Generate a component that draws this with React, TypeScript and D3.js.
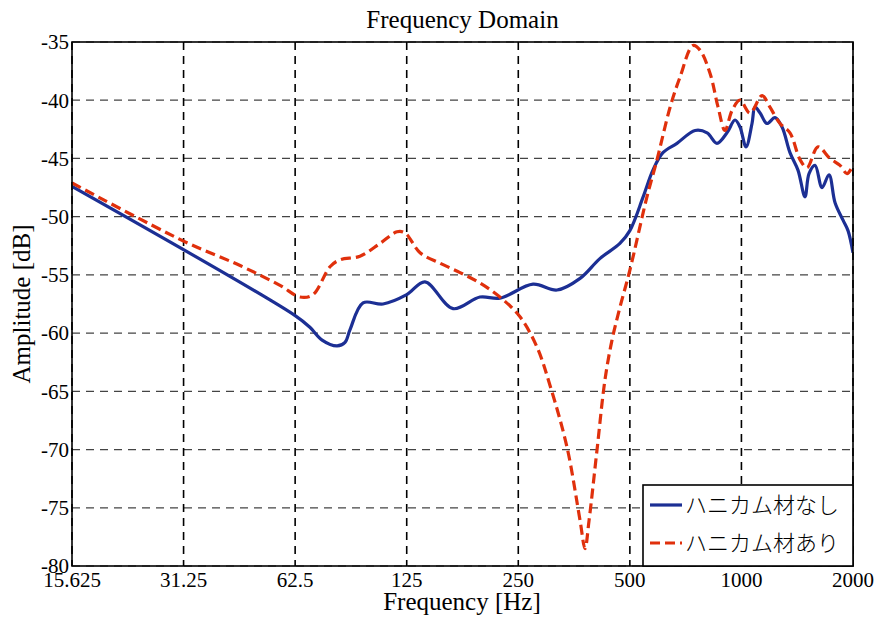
import React from "react";
import * as d3 from "d3";

const xTicks = [15.625, 31.25, 62.5, 125, 250, 500, 1000, 2000];
const xTickLabels = ["15.625", "31.25", "62.5", "125", "250", "500", "1000", "2000"];
const yTicks = [-35, -40, -45, -50, -55, -60, -65, -70, -75, -80];

const blueFreq = [15.625, 62.5, 68.5, 73.9, 81.1, 85.2, 87.9, 95.3, 107.9, 125, 140, 166.7, 197, 223, 274, 318, 367, 415, 470, 500, 543, 577, 614, 670, 750, 808, 859, 914, 961, 991, 1029, 1068, 1088, 1123, 1172, 1232, 1287, 1352, 1421, 1484, 1522, 1580, 1650, 1723, 1789, 1880, 1939, 2000];
const blueDb = [-47.4, -58.5, -59.5, -60.6, -61.1, -60.8, -59.7, -57.4, -57.5, -56.7, -55.6, -57.9, -56.9, -57.0, -55.8, -56.3, -55.3, -53.6, -52.3, -51.2, -48.3, -46.0, -44.5, -43.7, -42.6, -42.8, -43.7, -42.8, -41.7, -42.3, -44.0, -42.0, -40.6, -41.1, -42.0, -41.5, -42.3, -44.5, -46.0, -48.3, -46.3, -45.6, -47.5, -46.4, -48.8, -50.3, -51.2, -53.1];

const redFreq = [15.625, 31.25, 44.4, 56.9, 64.4, 69.8, 77.6, 82.6, 93.5, 105.9, 117.7, 123.7, 135.8, 153.7, 174.1, 197, 223, 252.7, 280.8, 304.5, 338.4, 367, 378.4, 388, 407.8, 428.4, 447.5, 470, 500, 556, 592, 642, 683, 740, 773, 823, 865, 903, 943, 991, 1055, 1137, 1194, 1271, 1352, 1439, 1503, 1609, 1733, 1845, 1927, 2000];
const redDb = [-47.1, -52.1, -54.2, -55.9, -56.9, -56.7, -54.3, -53.7, -53.4, -52.3, -51.3, -51.4, -53.1, -54.0, -54.8, -55.7, -56.9, -58.6, -61.2, -64.5, -69.8, -76.1, -78.5, -76.1, -70.0, -64.0, -60.6, -57.8, -54.6, -48.3, -45.1, -40.6, -38.0, -35.3, -35.7, -37.7, -40.6, -42.6, -40.9, -40.0, -41.1, -39.6, -40.6, -42.0, -42.8, -45.1, -45.8, -44.0, -45.0, -45.6, -46.3, -45.6];

const seriesNames = ["ハニカム材なし", "ハニカム材あり"];

const W = 878, H = 623;
const L = 72, R = 853, T = 42, B = 566;

export default function App() {
  const x = d3.scaleLog().base(2).domain([15.625, 2000]).range([L, R]);
  const y = d3.scaleLinear().domain([-80, -35]).range([B, T]);
  const line = d3
    .line<[number, number]>()
    .x((d) => x(d[0]))
    .y((d) => y(d[1]))
    .curve(d3.curveCatmullRom.alpha(0.5));
  const blue = line(blueFreq.map((f, i) => [f, blueDb[i]]))!;
  const red = line(redFreq.map((f, i) => [f, redDb[i]]))!;
  const font = "'Liberation Serif', 'Times New Roman', serif";
  const jp = "'Noto Sans CJK JP', sans-serif";
  return (
    <svg width={W} height={H} style={{ position: "absolute", left: 0, top: 0 }}>
      <rect x={0} y={0} width={W} height={H} fill="#fff" />
      <defs>
        <clipPath id="plot">
          <rect x={L} y={T} width={R - L} height={B - T} />
        </clipPath>
      </defs>
      {yTicks.map((t) => (
        <line key={"gy" + t} x1={L} x2={R} y1={y(t)} y2={y(t)} stroke="#444" strokeWidth={1.2} strokeDasharray="8,6" />
      ))}
      {xTicks.map((t) => (
        <line key={"gx" + t} x1={x(t)} x2={x(t)} y1={T} y2={B} stroke="#000" strokeWidth={1.6} strokeDasharray="8,6" />
      ))}
      <g clipPath="url(#plot)">
        <path d={blue} fill="none" stroke="#1c2f94" strokeWidth={3.2} strokeLinejoin="round" />
        <path d={red} fill="none" stroke="#e0300c" strokeWidth={3.2} strokeDasharray="10,5" />
      </g>
      <rect x={L} y={T} width={R - L} height={B - T} fill="none" stroke="#000" strokeWidth={1.6} />
      {yTicks.map((t) => (
        <text key={"ty" + t} x={L - 3} y={y(t)} dy="0.35em" textAnchor="end" fontFamily={font} fontSize={21}>
          {t}
        </text>
      ))}
      {xTicks.map((t, i) => (
        <text key={"tx" + t} x={x(t)} y={B + 21} textAnchor="middle" fontFamily={font} fontSize={21}>
          {xTickLabels[i]}
        </text>
      ))}
      <text x={(L + R) / 2} y={28} textAnchor="middle" fontFamily={font} fontSize={25}>
        Frequency Domain
      </text>
      <text x={462} y={610} textAnchor="middle" fontFamily={font} fontSize={25}>
        Frequency [Hz]
      </text>
      <text transform={`translate(30, ${(T + B) / 2}) rotate(-90)`} textAnchor="middle" fontFamily={font} fontSize={25}>
        Amplitude [dB]
      </text>
      <g>
        <rect x={643} y={485} width={R - 643} height={B - 485} fill="#fff" stroke="#000" strokeWidth={1.6} />
        <line x1={650} x2={682} y1={505} y2={505} stroke="#1c2f94" strokeWidth={3.2} />
        <line x1={650} x2={682} y1={543} y2={543} stroke="#e0300c" strokeWidth={3.2} strokeDasharray="10,5" />
        <text x={685} y={505} dy="0.35em" fontFamily={jp} fontWeight={300} fontSize={22}>
          {seriesNames[0]}
        </text>
        <text x={685} y={543} dy="0.35em" fontFamily={jp} fontWeight={300} fontSize={22}>
          {seriesNames[1]}
        </text>
      </g>
    </svg>
  );
}
